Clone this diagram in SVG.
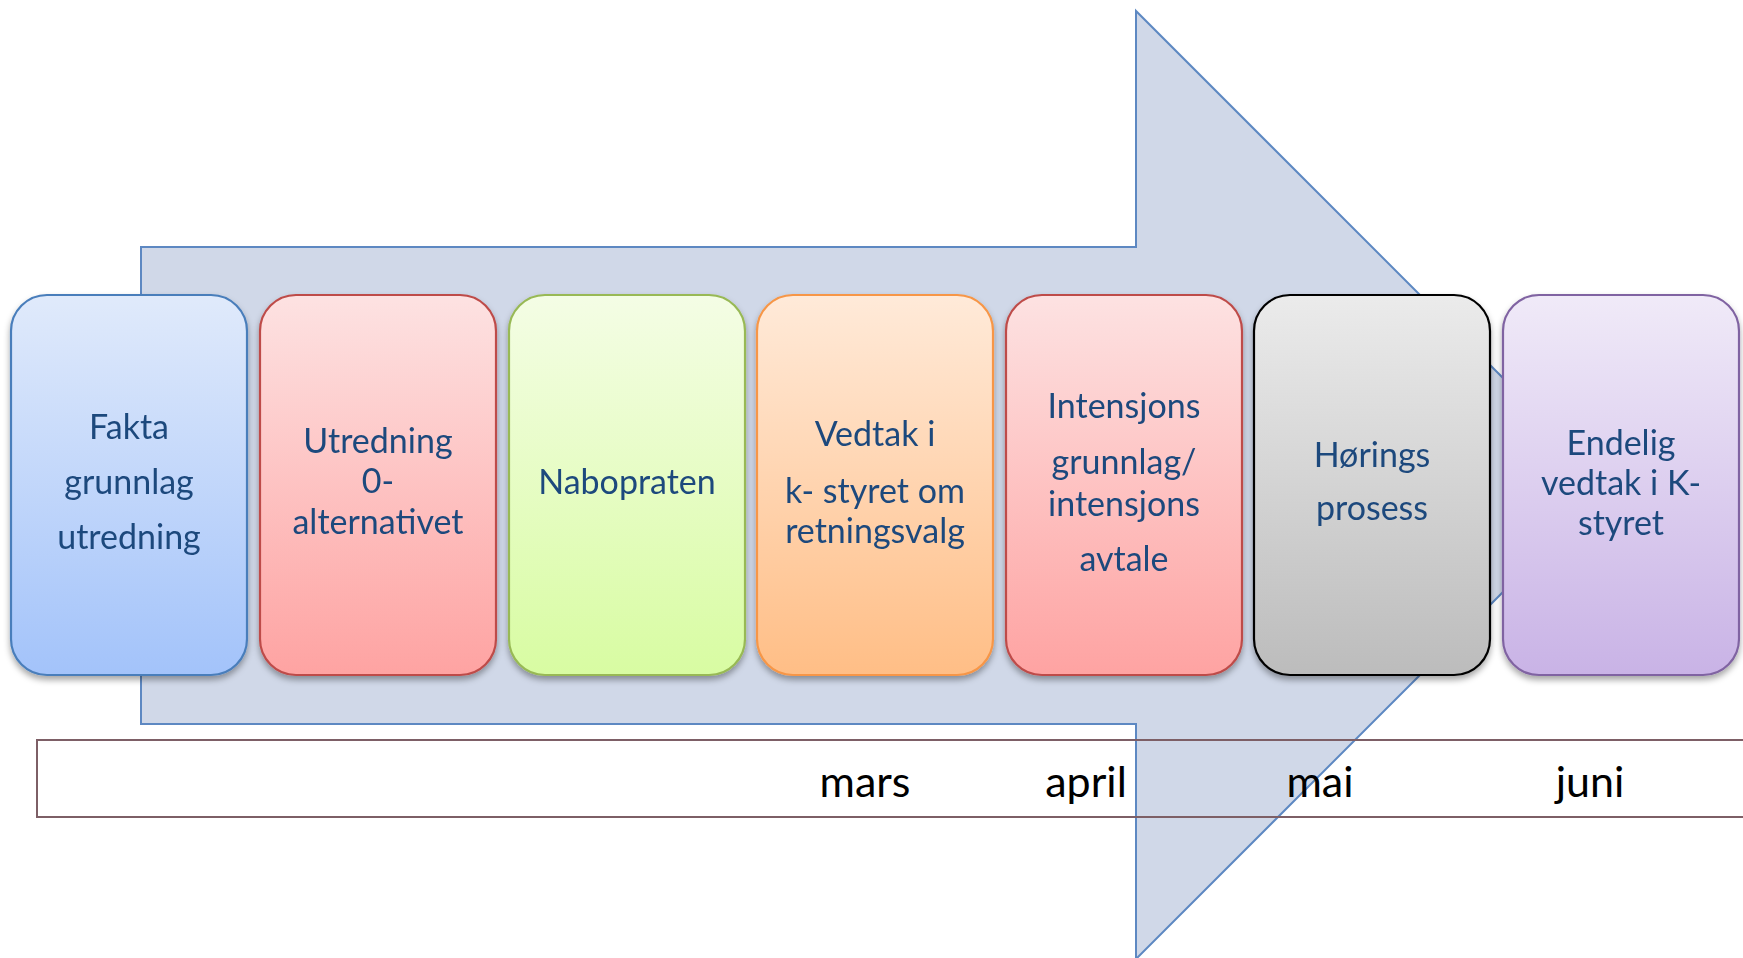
<svg xmlns="http://www.w3.org/2000/svg" width="1743" height="958" viewBox="0 0 1743 958">
<style>
.box{stroke-width:2.2}
.lbl{font-family:Lato,"Liberation Sans",sans-serif;font-size:34px;fill:#1F497D;text-anchor:middle}
.mon{font-family:Lato,"Liberation Sans",sans-serif;font-size:43px;fill:#000;text-anchor:middle}
</style>
<defs>
<filter id="sh" x="-10%" y="-10%" width="120%" height="125%">
<feDropShadow dx="0" dy="4" stdDeviation="3" flood-color="#000" flood-opacity="0.35"/>
</filter>
<linearGradient id="gBlue" x1="0" y1="0" x2="0" y2="1"><stop offset="0" stop-color="#e0eafb"/><stop offset="1" stop-color="#a3c3fa"/></linearGradient>
<linearGradient id="gRed" x1="0" y1="0" x2="0" y2="1"><stop offset="0" stop-color="#fde2e2"/><stop offset="1" stop-color="#fea3a2"/></linearGradient>
<linearGradient id="gGreen" x1="0" y1="0" x2="0" y2="1"><stop offset="0" stop-color="#f4fde5"/><stop offset="1" stop-color="#d8fca2"/></linearGradient>
<linearGradient id="gOrange" x1="0" y1="0" x2="0" y2="1"><stop offset="0" stop-color="#ffead9"/><stop offset="1" stop-color="#ffbe86"/></linearGradient>
<linearGradient id="gGray" x1="0" y1="0" x2="0" y2="1"><stop offset="0" stop-color="#ebebeb"/><stop offset="1" stop-color="#bcbcbc"/></linearGradient>
<linearGradient id="gPurple" x1="0" y1="0" x2="0" y2="1"><stop offset="0" stop-color="#f0eaf8"/><stop offset="1" stop-color="#c9b3e6"/></linearGradient>
</defs>

<g id="arrow">
<path d="M141,247 H1136 V11 L1610,485 L1136,959 V724 H141 Z" fill="#d0d8e8" stroke="#5d88c2" stroke-width="2"/>
</g>

<g id="timeline">
<rect x="37" y="740" width="1720" height="77" fill="none" stroke="#7d5f66" stroke-width="2"/>
<text class="mon" x="865" y="797">mars</text>
<text class="mon" x="1086" y="797">april</text>
<text class="mon" x="1320" y="797">mai</text>
<text class="mon" x="1590" y="797">juni</text>
</g>

<g id="connectors"></g>

<g id="n1" filter="url(#sh)">
<rect class="box" x="11" y="295" width="236" height="380" rx="36" fill="url(#gBlue)" stroke="#4a7ebb"/>
<text class="lbl" x="129" y="439">Fakta</text>
<text class="lbl" x="129" y="494">grunnlag</text>
<text class="lbl" x="129" y="549">utredning</text>
</g>
<g id="n2" filter="url(#sh)">
<rect class="box" x="260" y="295" width="236" height="380" rx="36" fill="url(#gRed)" stroke="#be4b48"/>
<text class="lbl" x="378" y="453">Utredning</text>
<text class="lbl" x="378" y="493">0-</text>
<text class="lbl" x="378" y="534">alternativet</text>
</g>
<g id="n3" filter="url(#sh)">
<rect class="box" x="509" y="295" width="236" height="380" rx="36" fill="url(#gGreen)" stroke="#98b954"/>
<text class="lbl" x="627" y="494">Nabopraten</text>
</g>
<g id="n4" filter="url(#sh)">
<rect class="box" x="757" y="295" width="236" height="380" rx="36" fill="url(#gOrange)" stroke="#f79646"/>
<text class="lbl" x="875" y="446">Vedtak i</text>
<text class="lbl" x="875" y="503">k- styret om</text>
<text class="lbl" x="875" y="543">retningsvalg</text>
</g>
<g id="n5" filter="url(#sh)">
<rect class="box" x="1006" y="295" width="236" height="380" rx="36" fill="url(#gRed)" stroke="#be4b48"/>
<text class="lbl" x="1124" y="418">Intensjons</text>
<text class="lbl" x="1124" y="474">grunnlag/</text>
<text class="lbl" x="1124" y="516">intensjons</text>
<text class="lbl" x="1124" y="571">avtale</text>
</g>
<g id="n6" filter="url(#sh)">
<rect class="box" x="1254" y="295" width="236" height="380" rx="36" fill="url(#gGray)" stroke="#000" stroke-width="2.6"/>
<text class="lbl" x="1372" y="467">Hørings</text>
<text class="lbl" x="1372" y="520">prosess</text>
</g>
<g id="n7" filter="url(#sh)">
<rect class="box" x="1503" y="295" width="236" height="380" rx="36" fill="url(#gPurple)" stroke="#8064a2"/>
<text class="lbl" x="1621" y="455">Endelig</text>
<text class="lbl" x="1621" y="495">vedtak i K-</text>
<text class="lbl" x="1621" y="535">styret</text>
</g>
</svg>
